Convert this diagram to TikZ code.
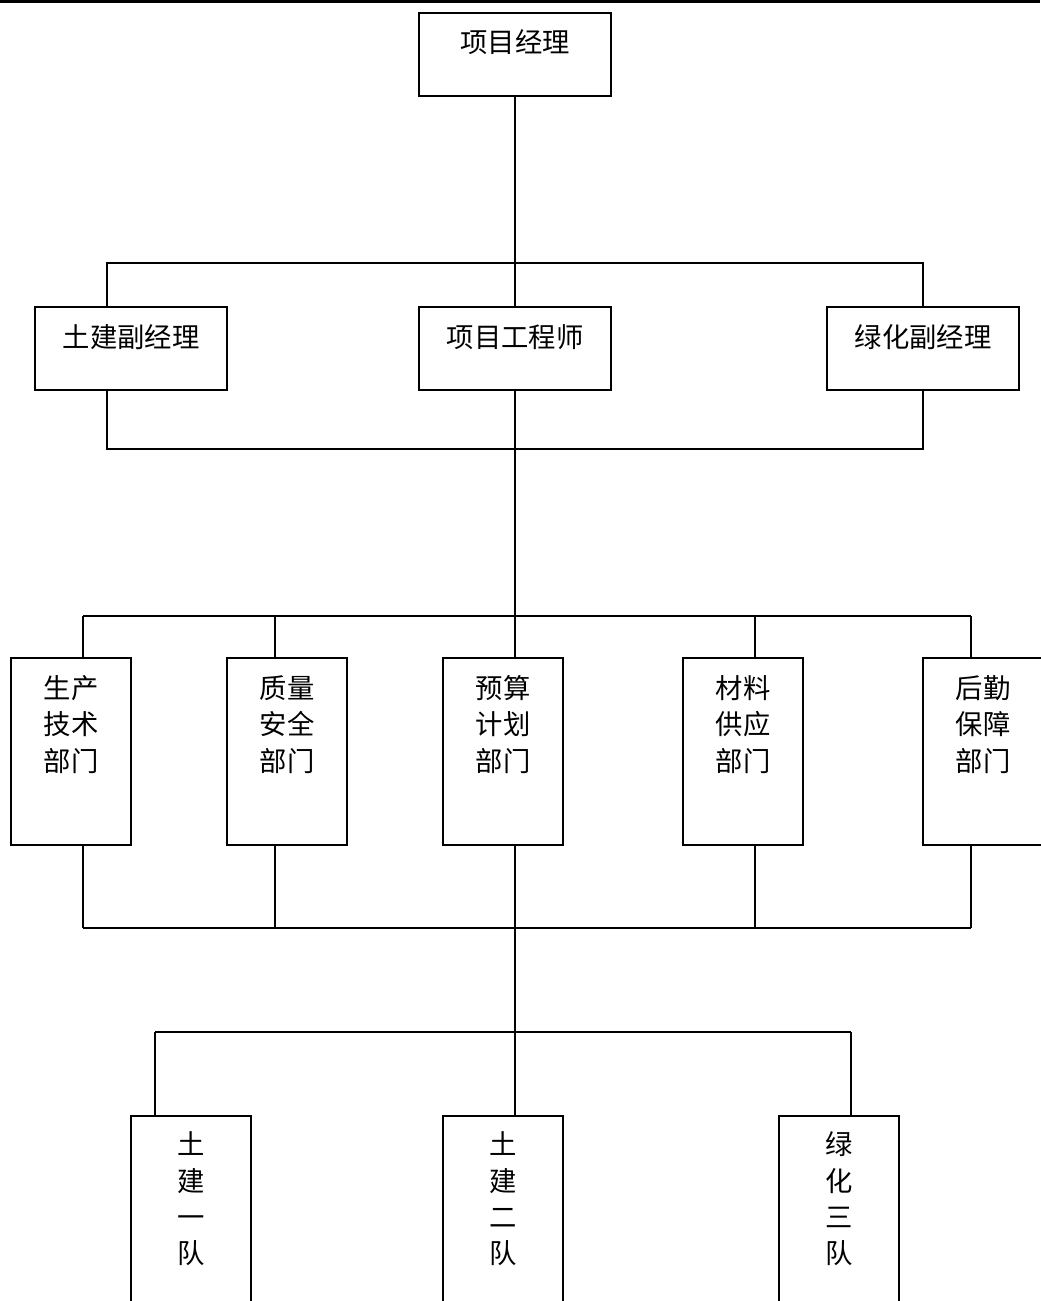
\documentclass[tikz,border=0pt]{standalone}
\usepackage{fontspec}
\setmainfont{Noto Sans CJK SC}
\begin{document}
\begin{tikzpicture}[x=0.75pt,y=-0.75pt,line width=1.4pt,
  box/.style={draw, rectangle, inner sep=0pt, line width=1.4pt},
  widebox/.style={box, minimum width=144pt, minimum height=62.25pt},
  tallbox/.style={box, minimum width=90pt, minimum height=140.25pt},
  teambox/.style={box, minimum width=90pt, minimum height=175.5pt},
  lbl/.style={inner sep=0pt, align=center, font=\fontsize{20.5}{27.2}\selectfont}]
\useasboundingbox (0,0) rectangle (1040,1301);
\draw[line width=2.25pt] (0,1.5) -- (1040,1.5);

\node[widebox] (pm) at (515,54.5){};
\node[lbl] (pmt) at (515,42){项目经理};

\node[widebox] (civ) at (131,348.5){};
\node[widebox] (pe) at (515,348.5){};
\node[widebox] (grn) at (923,348.5){};
\node[lbl] (civt) at (131,337){土建副经理};
\node[lbl] (pet) at (515,337){项目工程师};
\node[lbl] (grnt) at (923,337){绿化副经理};

\node[tallbox] (gen) at (71,751.5){};
\node[tallbox] (qua) at (287,751.5){};
\node[tallbox] (bud) at (503,751.5){};
\node[tallbox] (mat) at (743,751.5){};
\node[tallbox] (log) at (983,751.5){};
\node[lbl] (gent) at (71,724.5){生产\\技术\\部门};
\node[lbl] (quat) at (287,724.5){质量\\安全\\部门};
\node[lbl] (budt) at (503,724.5){预算\\计划\\部门};
\node[lbl] (matt) at (743,724.5){材料\\供应\\部门};
\node[lbl] (logt) at (983,724.5){后勤\\保障\\部门};

\node[teambox] (tone) at (191,1233){};
\node[teambox] (ttwo) at (503,1233){};
\node[teambox] (tgrn) at (839,1233){};
\node[lbl] (tonet) at (191,1199){土\\建\\一\\队};
\node[lbl] (ttwot) at (503,1199){土\\建\\二\\队};
\node[lbl] (tgrnt) at (839,1199){绿\\化\\三\\队};

% manager to deputies
\draw[](pm) -- (pe);
\coordinate (bsa) at (107,263);
\coordinate (bsb) at (923,263);
\draw[](bsa |- civ.north) -- (bsa) -- (bsb) -- (grn.north);
\coordinate (bja) at (107,449);
\coordinate (bjb) at (923,449);
\draw[](bsa |- civ.south) -- (bja) -- (bjb) -- (grn.south);

% deputies to departments
\draw[](pe.south) -- (pe.south |- bud.north);
\coordinate (dsa) at (83,616);
\coordinate (dsb) at (275,616);
\coordinate (dsc) at (755,616);
\coordinate (dsd) at (971,616);
\draw[](dsa) -- (dsd);
\draw[](dsa) -- (dsa |- gen.north);
\draw[](dsb) -- (dsb |- qua.north);
\draw[](dsc) -- (dsc |- mat.north);
\draw[](dsd) -- (dsd |- log.north);
\coordinate (dja) at (83,928);
\coordinate (djb) at (275,928);
\coordinate (djc) at (755,928);
\coordinate (djd) at (971,928);
\draw[](dja) -- (djd);
\draw[](dja) -- (dja |- gen.south);
\draw[](djb) -- (djb |- qua.south);
\draw[](djc) -- (djc |- mat.south);
\draw[](djd) -- (djd |- log.south);

% departments to teams
\draw[](pe.south |- bud.south) -- (pe.south |- ttwo.north);
\coordinate (tsa) at (155,1032);
\coordinate (tsb) at (851,1032);
\draw[](tsa) -- (tsb);
\draw[](tsa) -- (tsa |- tone.north);
\draw[](tsb) -- (tsb |- tgrn.north);

\end{tikzpicture}
\end{document}
